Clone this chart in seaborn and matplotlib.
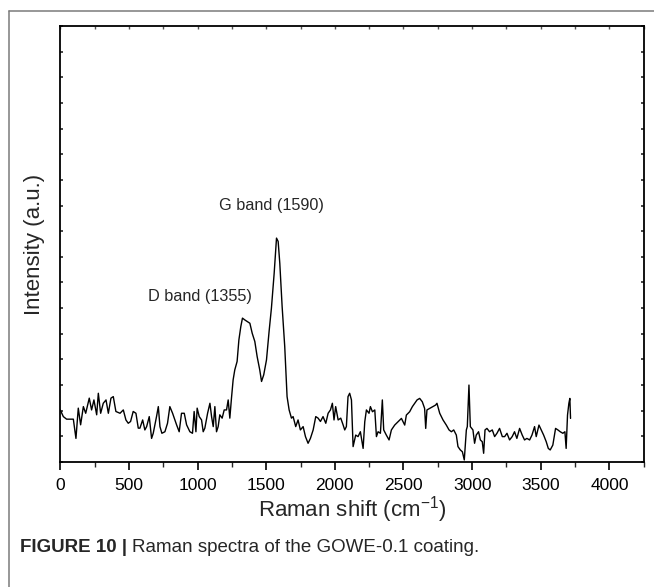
import numpy as np
import pandas as pd
import matplotlib
matplotlib.use("Agg")
import matplotlib.pyplot as plt
from matplotlib.lines import Line2D
from matplotlib.ticker import MultipleLocator
import seaborn as sns

# Raman shift (cm-1)
raman_shift = [
    0, 22, 46, 95, 114, 131, 148, 168, 185, 211, 228, 245, 265, 277, 294, 313, 333, 350, 369, 386,
    405, 435, 459, 478, 495, 512, 531, 551, 568, 580, 600, 616, 629, 648, 665, 677, 701, 714, 726, 740,
    762, 781, 798, 818, 847, 866, 883, 903, 920, 944, 963, 975, 988, 997, 1012, 1029, 1041, 1053, 1073, 1090,
    1102, 1114, 1126, 1138, 1150, 1162, 1179, 1194, 1211, 1223, 1235, 1247, 1259, 1271, 1288, 1301, 1315, 1327, 1344, 1361,
    1381, 1398, 1417, 1434, 1453, 1466, 1482, 1502, 1521, 1538, 1558, 1575, 1587, 1599, 1616, 1635, 1652, 1667, 1684, 1696,
    1715, 1732, 1749, 1769, 1786, 1805, 1822, 1842, 1861, 1878, 1895, 1914, 1934, 1951, 1968, 1982, 1994, 2006, 2024, 2043,
    2060, 2072, 2084, 2096, 2108, 2121, 2133, 2152, 2169, 2186, 2206, 2218, 2230, 2249, 2259, 2274, 2291, 2303, 2315, 2332,
    2346, 2356, 2375, 2395, 2412, 2436, 2460, 2485, 2509, 2521, 2545, 2565, 2582, 2599, 2618, 2637, 2654, 2662, 2671, 2691,
    2715, 2734, 2744, 2764, 2788, 2812, 2832, 2849, 2866, 2885, 2897, 2914, 2929, 2943, 2958, 2965, 2977, 2987, 3006, 3018,
    3030, 3047, 3060, 3074, 3084, 3094, 3108, 3127, 3147, 3164, 3181, 3200, 3220, 3237, 3254, 3273, 3292, 3309, 3326, 3346,
    3365, 3382, 3399, 3419, 3436, 3455, 3467, 3487, 3504, 3521, 3540, 3555, 3569, 3588, 3608, 3625, 3642, 3661, 3676, 3685,
    3695, 3705, 3712, 3717,
]
# Intensity (a.u.)
intensity = [
    203, 177, 167, 167, 92, 210, 145, 216, 190, 249, 203, 242, 184, 268, 190, 229, 242, 190, 249, 255,
    197, 190, 203, 164, 151, 158, 197, 190, 132, 132, 164, 125, 138, 177, 92, 112, 177, 216, 138, 112,
    118, 151, 216, 190, 145, 118, 190, 190, 145, 118, 112, 197, 118, 210, 177, 164, 118, 132, 190, 229,
    177, 138, 216, 118, 138, 184, 171, 203, 203, 242, 171, 249, 320, 359, 392, 476, 528, 561, 554, 548,
    541, 502, 470, 411, 359, 314, 340, 398, 509, 600, 736, 873, 860, 775, 606, 450, 255, 203, 171, 177,
    138, 164, 125, 138, 99, 73, 92, 125, 177, 171, 158, 177, 151, 190, 203, 229, 164, 216, 164, 171,
    145, 125, 138, 255, 268, 242, 60, 105, 99, 118, 53, 157, 203, 190, 216, 196, 203, 99, 118, 112,
    242, 125, 105, 86, 125, 144, 157, 170, 144, 183, 196, 216, 229, 242, 248, 235, 209, 131, 203, 209,
    216, 222, 229, 190, 164, 144, 125, 118, 125, 105, 60, 47, 40, 8, 125, 138, 300, 138, 125, 73,
    105, 118, 86, 79, 34, 125, 131, 118, 125, 99, 112, 131, 99, 99, 112, 86, 99, 118, 92, 131,
    105, 86, 92, 86, 105, 138, 99, 144, 125, 105, 79, 53, 47, 66, 131, 125, 118, 112, 118, 53,
    183, 229, 248, 170,
]

x_ticks = [0, 500, 1000, 1500, 2000, 2500, 3000, 3500, 4000]
band_labels = ["D band (1355)", "G band (1590)"]
band_label_pos = [(1017, 644), (1539, 1002)]

df = pd.DataFrame({"shift": raman_shift, "intensity": intensity})

sns.set_theme(style="ticks")
plt.rcParams["font.family"] = ["Liberation Sans", "DejaVu Sans"]
plt.rcParams["mathtext.default"] = "regular"

fig = plt.figure(figsize=(6.54, 5.87), dpi=100)
ax = fig.add_axes([60.3 / 654, 1 - 462 / 587, (643.7 - 60.3) / 654, (462 - 26) / 587])

sns.lineplot(data=df, x="shift", y="intensity", ax=ax, color="black",
             linewidth=1.0, estimator=None, sort=False)

ax.set_xlim(0, 4250)
ax.set_ylim(0, 1700)
ax.set_xticks(x_ticks)
ax.set_xticklabels([str(t) for t in x_ticks])
ax.xaxis.set_minor_locator(MultipleLocator(250))
ax.yaxis.set_major_locator(MultipleLocator(100))
ax.set_yticklabels([])

ax.tick_params(axis="x", which="major", direction="out", length=6, width=1.2,
               labelsize=12.5, pad=5.5, colors="black", top=False)
ax.tick_params(axis="x", which="minor", direction="out", length=3.5, width=1.0,
               top=False)
ax.tick_params(axis="y", which="major", direction="in", length=2, width=1.2,
               left=True, right=True, labelleft=False)

# top ticks (inward, small)
secx = ax.secondary_xaxis("top")
secx.set_xticks(np.arange(0, 4251, 250))
secx.tick_params(direction="in", length=2, width=1.0, labeltop=False, colors="#555555")
secx.spines["top"].set_visible(False)

for s in ax.spines.values():
    s.set_color("black")
    s.set_linewidth(1.3)

ax.set_xlabel("Raman shift (cm$^{-1}$)", fontsize=16, labelpad=1)
ax.set_ylabel("Intensity (a.u.)", fontsize=16, labelpad=11)

for lab, (xv, yv) in zip(band_labels, band_label_pos):
    ax.text(xv, yv, lab, fontsize=11.7, ha="center", va="center")

# caption
cap_y = 1 - 547 / 587
t1 = fig.text(20 / 654, cap_y, "FIGURE 10 |", fontsize=13.5, fontweight="bold",
              ha="left", va="center")
fig.canvas.draw()
bb = t1.get_window_extent(renderer=fig.canvas.get_renderer())
fig.text((bb.x1 + 5) / 654, cap_y, "Raman spectra of the GOWE-0.1 coating.",
         fontsize=13.5, ha="left", va="center")

# outer frame lines
fig.add_artist(Line2D([9.3 / 654, 9.3 / 654], [0, 1 - 10.7 / 587], transform=fig.transFigure,
                      color="#7a7a7a", linewidth=1.1))
fig.add_artist(Line2D([9.3 / 654, 1], [1 - 10.7 / 587, 1 - 10.7 / 587], transform=fig.transFigure,
                      color="#7a7a7a", linewidth=1.1))

fig.savefig("out.png", dpi=100)
